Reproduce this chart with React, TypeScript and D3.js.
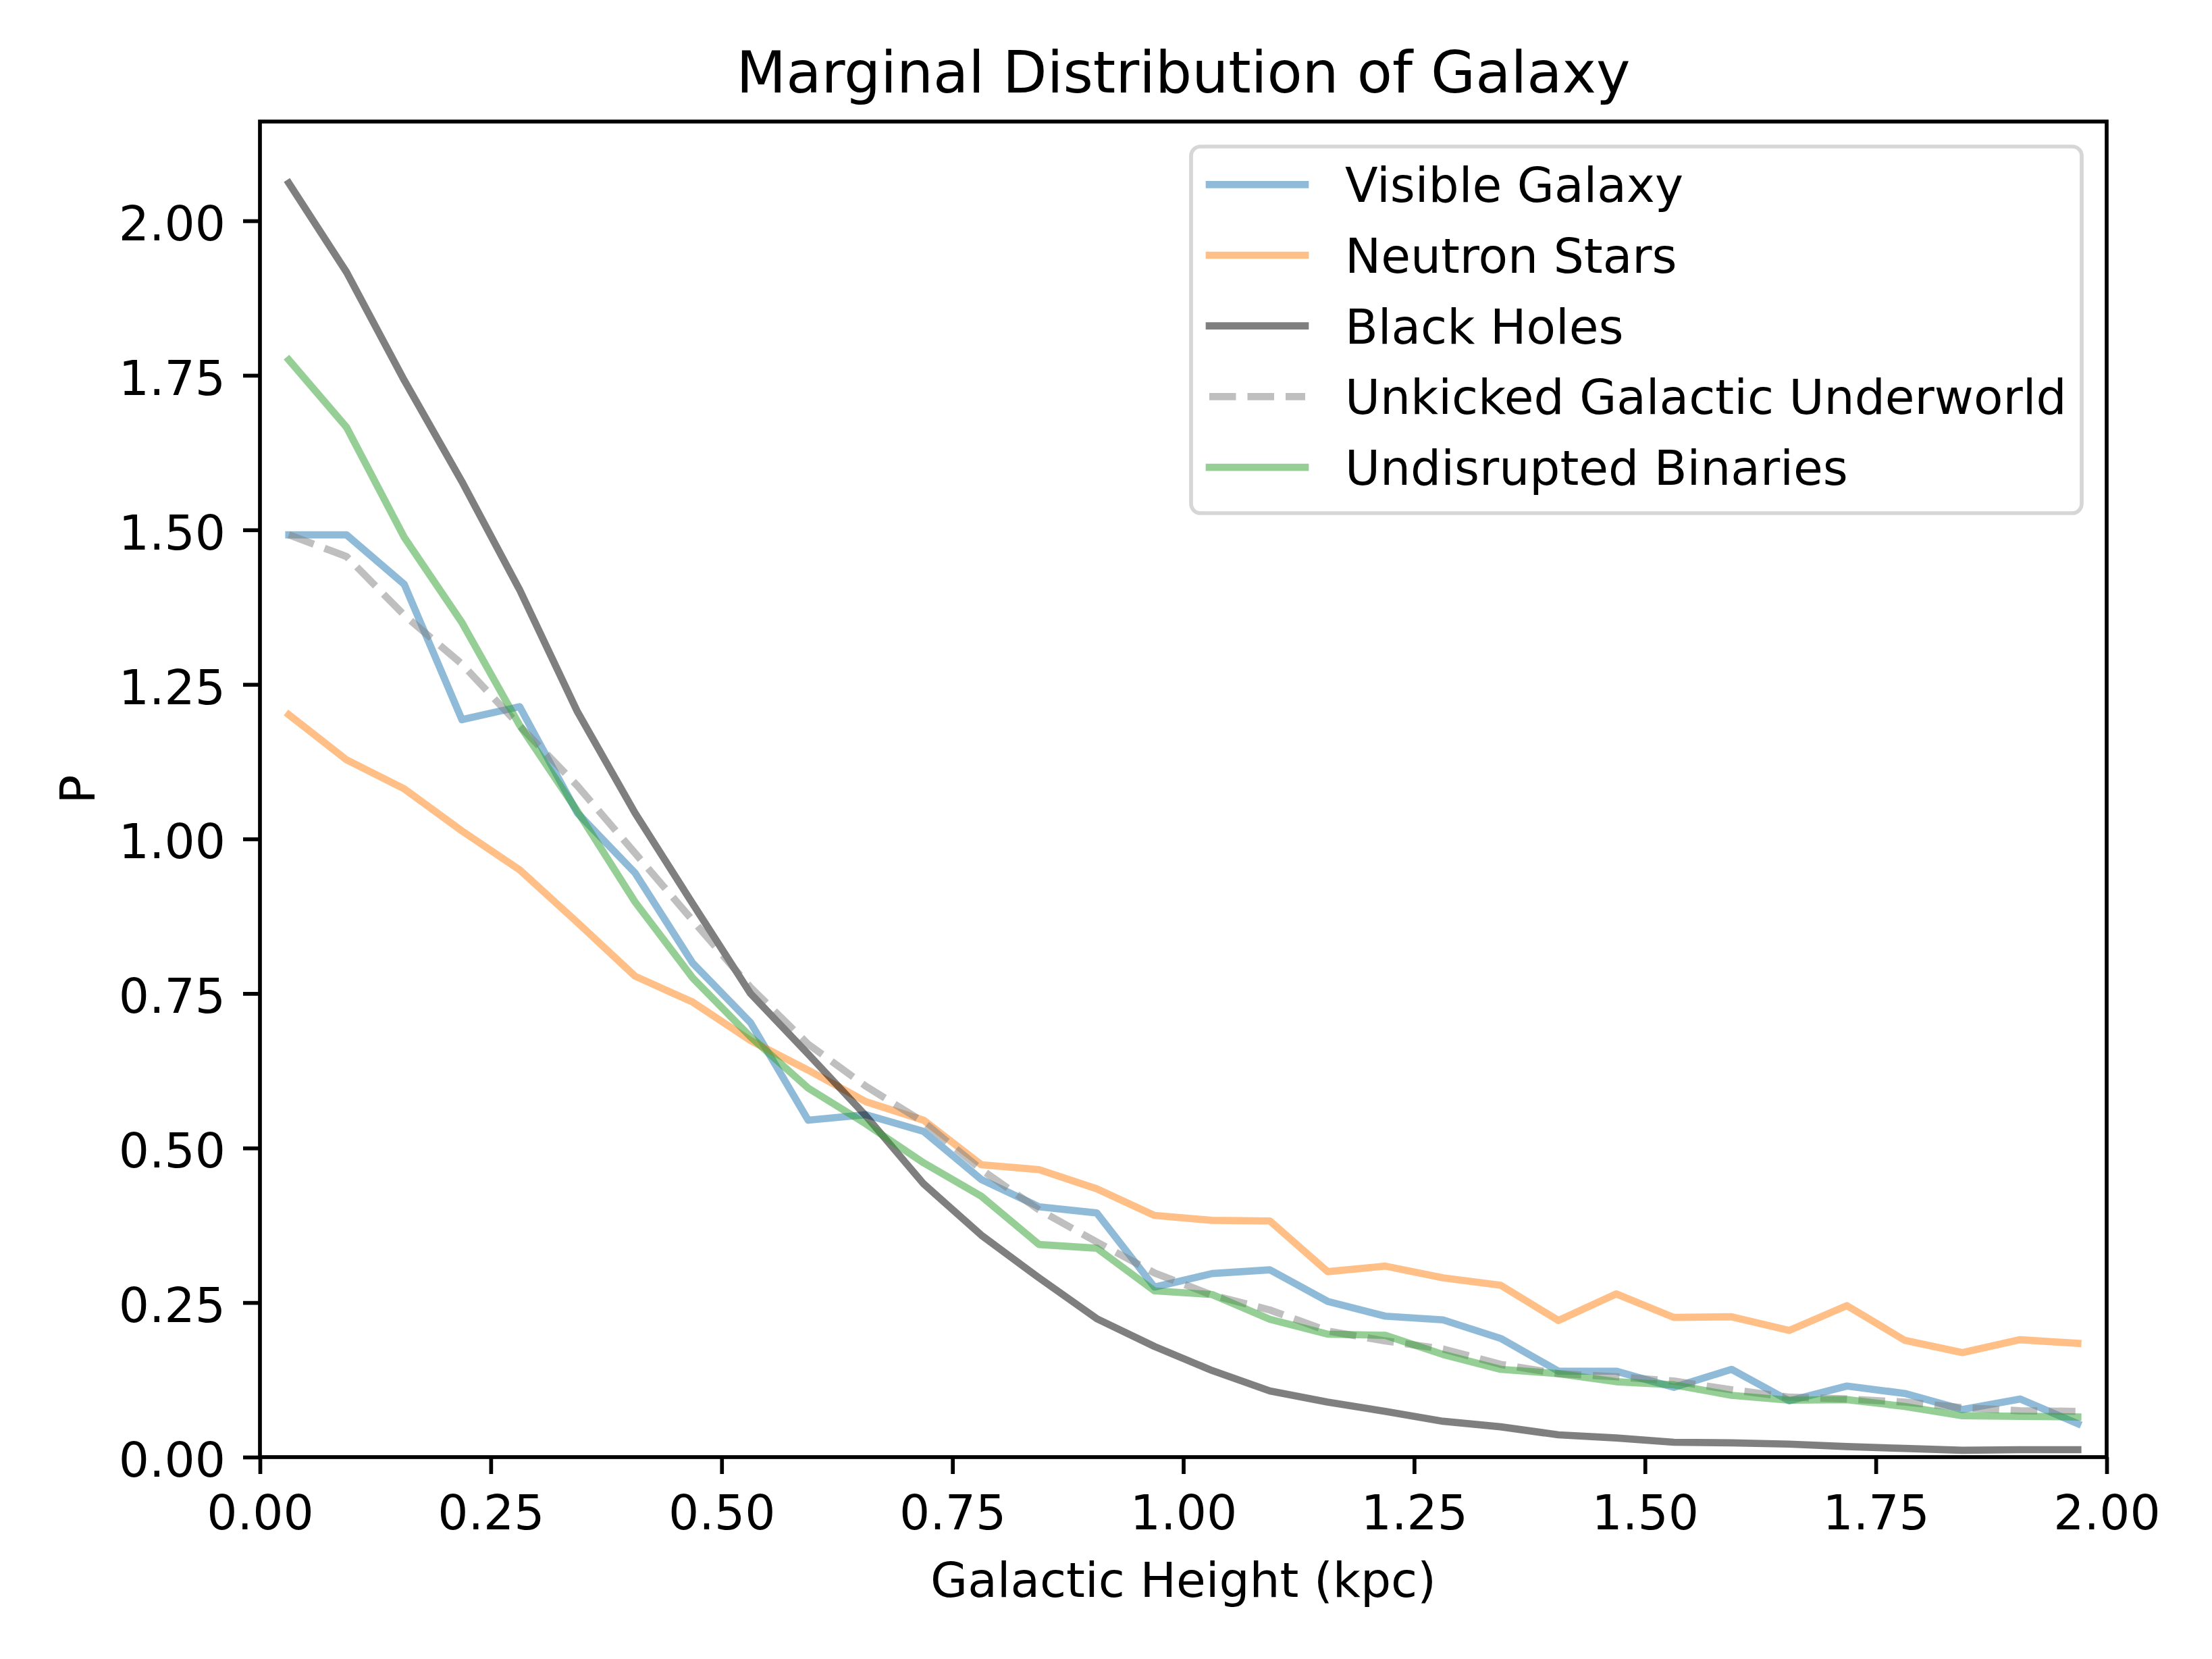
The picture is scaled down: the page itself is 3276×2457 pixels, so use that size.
import React, { useEffect, useRef } from 'react';
import * as d3 from 'd3';

// bin centres (kpc)
const heights = [
  0.03125, 0.09375, 0.15625, 0.21875, 0.28125, 0.34375, 0.40625, 0.46875,
  0.53125, 0.59375, 0.65625, 0.71875, 0.78125, 0.84375, 0.90625, 0.96875,
  1.03125, 1.09375, 1.15625, 1.21875, 1.28125, 1.34375, 1.40625, 1.46875,
  1.53125, 1.59375, 1.65625, 1.71875, 1.78125, 1.84375, 1.90625, 1.96875,
];

const visibleGalaxy = [
  1.492, 1.492, 1.412, 1.193, 1.214, 1.042, 0.945, 0.799, 0.703, 0.545, 0.554,
  0.527, 0.449, 0.405, 0.395, 0.275, 0.297, 0.303, 0.252, 0.228, 0.222, 0.192,
  0.139, 0.139, 0.113, 0.142, 0.091, 0.115, 0.103, 0.077, 0.094, 0.054,
];

const neutronStars = [
  1.201, 1.128, 1.081, 1.013, 0.95, 0.865, 0.778, 0.736, 0.674, 0.626, 0.575,
  0.545, 0.473, 0.465, 0.434, 0.391, 0.383, 0.382, 0.3, 0.309, 0.29, 0.278,
  0.221, 0.264, 0.226, 0.227, 0.205, 0.245, 0.189, 0.169, 0.19, 0.184,
];

const blackHoles = [
  2.061, 1.917, 1.742, 1.578, 1.403, 1.206, 1.042, 0.895, 0.75, 0.652, 0.552,
  0.442, 0.359, 0.29, 0.224, 0.179, 0.14, 0.107, 0.089, 0.074, 0.058, 0.049,
  0.036, 0.031, 0.024, 0.023, 0.021, 0.017, 0.014, 0.011, 0.012, 0.012,
];

const unkicked = [
  1.492, 1.457, 1.362, 1.283, 1.183, 1.086, 0.977, 0.868, 0.76, 0.668, 0.6,
  0.542, 0.465, 0.4, 0.348, 0.298, 0.262, 0.238, 0.204, 0.188, 0.175, 0.15,
  0.135, 0.13, 0.123, 0.109, 0.097, 0.094, 0.089, 0.08, 0.075, 0.074,
];

const undisrupted = [
  1.775, 1.666, 1.488, 1.35, 1.184, 1.045, 0.898, 0.775, 0.68, 0.597, 0.539,
  0.476, 0.422, 0.344, 0.338, 0.269, 0.263, 0.223, 0.199, 0.197, 0.166, 0.142,
  0.135, 0.122, 0.117, 0.1, 0.092, 0.093, 0.082, 0.067, 0.066, 0.065,
];

const seriesNames = [
  'Visible Galaxy',
  'Neutron Stars',
  'Black Holes',
  'Unkicked Galactic Underworld',
  'Undisrupted Binaries',
];

const xTicks = [0, 0.25, 0.5, 0.75, 1.0, 1.25, 1.5, 1.75, 2.0];
const yTicks = [0, 0.25, 0.5, 0.75, 1.0, 1.25, 1.5, 1.75, 2.0];

const W = 3276;
const H = 2457;
const FONT = 'DejaVu Sans, sans-serif';
const FS = 71.1;   // 10pt @ 512 dpi
const LW = 10.67;  // 1.5pt
const SPINE = 5.7; // 0.8pt

const App = () => {
  const ref = useRef<SVGSVGElement>(null);

  useEffect(() => {
    if (!ref.current) return;
    const svg = d3.select(ref.current);
    svg.selectAll('*').remove();

    const left = 385, right = 3120, top = 180, bottom = 2158;

    const x = d3.scaleLinear().domain([0, 2]).range([left, right]);
    const y = d3.scaleLinear().domain([0, 2.1606]).range([bottom, top]);

    svg.append('rect').attr('width', W).attr('height', H).attr('fill', '#fff');

    const series = [
      { name: seriesNames[0], values: visibleGalaxy, color: '#1f77b4', dash: null },
      { name: seriesNames[1], values: neutronStars, color: '#ff7f0e', dash: null },
      { name: seriesNames[2], values: blackHoles, color: '#000000', dash: null },
      { name: seriesNames[3], values: unkicked, color: '#808080', dash: '39.5,17' },
      { name: seriesNames[4], values: undisrupted, color: '#2ca02c', dash: null },
    ];

    const line = d3.line<number>()
      .x((_, i) => x(heights[i]))
      .y(d => y(d));

    series.forEach(s => {
      svg.append('path')
        .datum(s.values)
        .attr('d', line)
        .attr('fill', 'none')
        .attr('stroke', s.color)
        .attr('stroke-opacity', 0.5)
        .attr('stroke-width', LW)
        .attr('stroke-linejoin', 'round')
        .attr('stroke-linecap', s.dash ? 'butt' : 'square')
        .attr('stroke-dasharray', s.dash);
    });

    // x axis
    const gx = svg.append('g')
      .attr('transform', `translate(0,${bottom})`)
      .call(d3.axisBottom(x).tickValues(xTicks).tickFormat(d3.format('.2f'))
        .tickSize(25).tickPadding(31.6));
    gx.select('.domain').remove();
    gx.selectAll('line').attr('stroke', '#000').attr('stroke-width', SPINE);
    gx.selectAll('text').attr('font-family', FONT).attr('font-size', FS).attr('fill', '#000');

    // y axis
    const gy = svg.append('g')
      .attr('transform', `translate(${left},0)`)
      .call(d3.axisLeft(y).tickValues(yTicks).tickFormat(d3.format('.2f'))
        .tickSize(25).tickPadding(26));
    gy.select('.domain').remove();
    gy.selectAll('line').attr('stroke', '#000').attr('stroke-width', SPINE);
    gy.selectAll('text').attr('font-family', FONT).attr('font-size', FS)
      .attr('fill', '#000').attr('dy', '0.40em');

    // frame
    svg.append('rect')
      .attr('x', left).attr('y', top)
      .attr('width', right - left).attr('height', bottom - top)
      .attr('fill', 'none').attr('stroke', '#000').attr('stroke-width', SPINE)
      .attr('stroke-linejoin', 'miter');

    // title and labels
    svg.append('text')
      .attr('x', (left + right) / 2).attr('y', 137)
      .attr('text-anchor', 'middle')
      .attr('font-family', FONT).attr('font-size', 85.3)
      .text('Marginal Distribution of Galaxy');

    svg.append('text')
      .attr('x', (left + right) / 2).attr('y', 2365)
      .attr('text-anchor', 'middle')
      .attr('font-family', FONT).attr('font-size', FS)
      .text('Galactic Height (kpc)');

    svg.append('text')
      .attr('transform', `translate(140,${(top + bottom) / 2}) rotate(-90)`)
      .attr('text-anchor', 'middle')
      .attr('font-family', FONT).attr('font-size', FS)
      .text('P');

    // legend
    const lg = svg.append('g');
    lg.append('rect')
      .attr('x', 1764).attr('y', 217)
      .attr('width', 3083 - 1764).attr('height', 760 - 217)
      .attr('rx', 14).attr('ry', 14)
      .attr('fill', '#fff').attr('fill-opacity', 0.8)
      .attr('stroke', '#cccccc').attr('stroke-opacity', 0.8)
      .attr('stroke-width', SPINE);

    series.forEach((s, i) => {
      const cy = 273.3 + i * 104.7;
      lg.append('line')
        .attr('x1', 1791).attr('x2', 1933)
        .attr('y1', cy).attr('y2', cy)
        .attr('stroke', s.color)
        .attr('stroke-opacity', 0.5)
        .attr('stroke-width', LW)
        .attr('stroke-linecap', s.dash ? 'butt' : 'square')
        .attr('stroke-dasharray', s.dash);
      lg.append('text')
        .attr('x', 1992).attr('y', cy + 26)
        .attr('font-family', FONT).attr('font-size', FS)
        .text(s.name);
    });
  }, []);

  return (
    <svg
      ref={ref}
      width={W}
      height={H}
      style={{ position: 'absolute', left: 0, top: 0 }}
    />
  );
};

export default App;
